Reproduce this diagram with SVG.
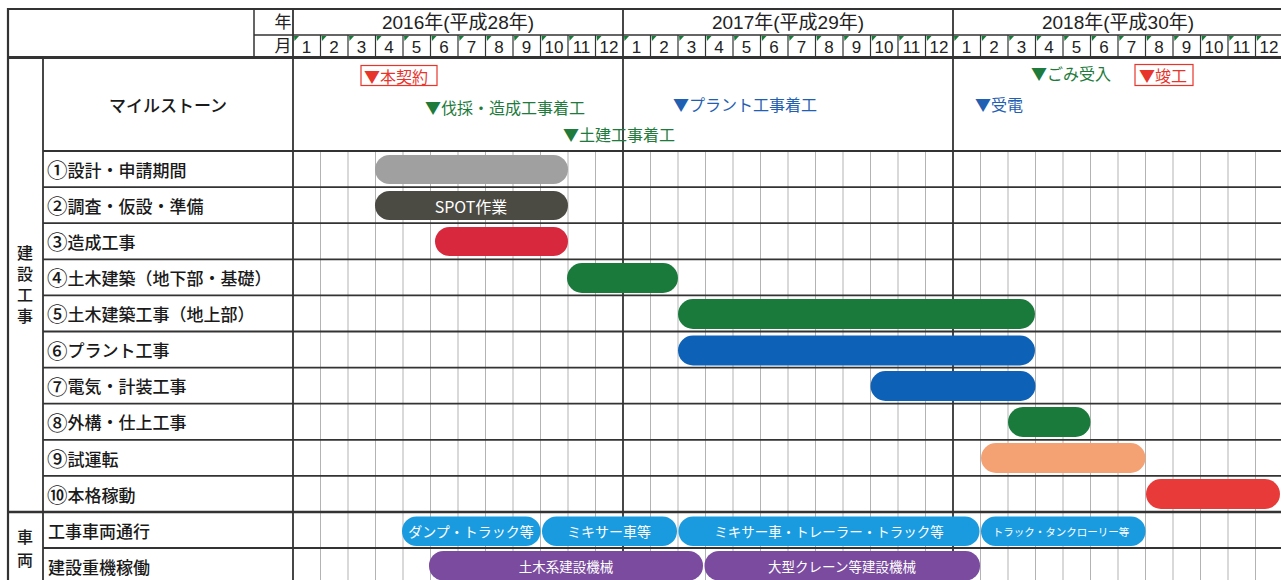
<svg xmlns="http://www.w3.org/2000/svg" width="1281" height="580" viewBox="0 0 1281 580">
<defs>
<style>
.jp{font-family:"Noto Sans CJK JP","Noto Sans CJK SC",sans-serif;}
.hd{font-family:"Liberation Sans","Noto Sans CJK JP",sans-serif;fill:#222;}
.lbl{font-family:"Noto Sans CJK JP",sans-serif;font-size:17px;font-weight:500;fill:#1a1a1a;dominant-baseline:central;}
.vt{font-family:"Noto Sans CJK JP",sans-serif;font-size:16px;font-weight:500;fill:#1a1a1a;writing-mode:vertical-rl;}
.cd{font-size:20.5px;}
.ms{font-family:"Noto Sans CJK JP",sans-serif;font-size:16px;dominant-baseline:central;}
.bt{font-family:"Noto Sans CJK JP","Liberation Sans",sans-serif;fill:#fff;text-anchor:middle;dominant-baseline:central;}
.dk{stroke:#333;fill:none;}
.lt{stroke:#b3b3b3;stroke-width:1;fill:none;}
</style>
<polygon id="tri" points="0,0 5,0 0.5,5" fill="#1a7a3c"/>
</defs>
<rect width="1281" height="580" fill="#fff"/>

<g id="grid">
  <g class="lt">
    <path d="M320.5 151V580M348 151V580M375.5 151V580M403 151V580M430.5 151V580M458 151V580M485.5 151V580M513 151V580M540.5 151V580M568 151V580M595.5 151V580M650.5 151V580M678 151V580M705.5 151V580M733 151V580M760.5 151V580M788 151V580M815.5 151V580M843 151V580M870.5 151V580M898 151V580M925.5 151V580M980.5 151V580M1008 151V580M1035.5 151V580M1063 151V580M1090.5 151V580M1118 151V580M1145.5 151V580M1173 151V580M1200.5 151V580M1228 151V580M1255.5 151V580"/>
  </g>
  <path class="dk" stroke-width="1.2" d="M320.5 35V57M348 35V57M375.5 35V57M403 35V57M430.5 35V57M458 35V57M485.5 35V57M513 35V57M540.5 35V57M568 35V57M595.5 35V57M650.5 35V57M678 35V57M705.5 35V57M733 35V57M760.5 35V57M788 35V57M815.5 35V57M843 35V57M870.5 35V57M898 35V57M925.5 35V57M980.5 35V57M1008 35V57M1035.5 35V57M1063 35V57M1090.5 35V57M1118 35V57M1145.5 35V57M1173 35V57M1200.5 35V57M1228 35V57M1255.5 35V57"/>
  <g>
    <use href="#tri" x="294" y="36"/><use href="#tri" x="321.5" y="36"/><use href="#tri" x="349" y="36"/><use href="#tri" x="376.5" y="36"/><use href="#tri" x="404" y="36"/><use href="#tri" x="431.5" y="36"/><use href="#tri" x="459" y="36"/><use href="#tri" x="486.5" y="36"/><use href="#tri" x="514" y="36"/><use href="#tri" x="541.5" y="36"/><use href="#tri" x="569" y="36"/><use href="#tri" x="596.5" y="36"/>
    <use href="#tri" x="624" y="36"/><use href="#tri" x="651.5" y="36"/><use href="#tri" x="679" y="36"/><use href="#tri" x="706.5" y="36"/><use href="#tri" x="734" y="36"/><use href="#tri" x="761.5" y="36"/><use href="#tri" x="789" y="36"/><use href="#tri" x="816.5" y="36"/><use href="#tri" x="844" y="36"/><use href="#tri" x="871.5" y="36"/><use href="#tri" x="899" y="36"/><use href="#tri" x="926.5" y="36"/>
    <use href="#tri" x="954" y="36"/><use href="#tri" x="981.5" y="36"/><use href="#tri" x="1009" y="36"/><use href="#tri" x="1036.5" y="36"/><use href="#tri" x="1064" y="36"/><use href="#tri" x="1091.5" y="36"/><use href="#tri" x="1119" y="36"/><use href="#tri" x="1146.5" y="36"/><use href="#tri" x="1174" y="36"/><use href="#tri" x="1201.5" y="36"/><use href="#tri" x="1229" y="36"/><use href="#tri" x="1256.5" y="36"/>
  </g>
  <path class="dk" stroke-width="1.8" d="M43 151H1281M43 187.1H1281M43 223.2H1281M43 259.3H1281M43 295.4H1281M43 331.5H1281M43 367.6H1281M43 403.7H1281M43 439.8H1281M43 475.9H1281M43 548H1281"/>
  <path class="dk" stroke-width="2.6" d="M8 512H1281"/>
  <path class="dk" stroke-width="1.5" d="M254 35H1281M254 9V57"/>
  <path class="dk" stroke-width="3" d="M8 57.5H1281"/>
  <path class="dk" stroke-width="1.8" d="M293 9V580M623 9V580M953 9V580M43 57V580"/>
  <path class="dk" stroke-width="2.2" d="M8 580V9H1281"/>
</g>

<g id="header">
  <text class="hd" x="458" y="29" font-size="19" text-anchor="middle">2016年(平成28年)</text>
  <text class="hd" x="788" y="29" font-size="19" text-anchor="middle">2017年(平成29年)</text>
  <text class="hd" x="1118" y="29" font-size="19" text-anchor="middle">2018年(平成30年)</text>
  <text class="jp" x="283" y="28" font-size="17" text-anchor="middle" fill="#222">年</text>
  <text class="jp" x="283" y="52" font-size="17" text-anchor="middle" fill="#222">月</text>
  <g class="hd" font-size="17" text-anchor="middle">
    <text x="306.5" y="52.5">1</text><text x="334" y="52.5">2</text><text x="361.5" y="52.5">3</text><text x="389" y="52.5">4</text><text x="416.5" y="52.5">5</text><text x="444" y="52.5">6</text><text x="471.5" y="52.5">7</text><text x="499" y="52.5">8</text><text x="526.5" y="52.5">9</text><text x="554" y="52.5">10</text><text x="581.5" y="52.5">11</text><text x="609" y="52.5">12</text>
    <text x="636.5" y="52.5">1</text><text x="664" y="52.5">2</text><text x="691.5" y="52.5">3</text><text x="719" y="52.5">4</text><text x="746.5" y="52.5">5</text><text x="774" y="52.5">6</text><text x="801.5" y="52.5">7</text><text x="829" y="52.5">8</text><text x="856.5" y="52.5">9</text><text x="884" y="52.5">10</text><text x="911.5" y="52.5">11</text><text x="939" y="52.5">12</text>
    <text x="966.5" y="52.5">1</text><text x="994" y="52.5">2</text><text x="1021.5" y="52.5">3</text><text x="1049" y="52.5">4</text><text x="1076.5" y="52.5">5</text><text x="1104" y="52.5">6</text><text x="1131.5" y="52.5">7</text><text x="1159" y="52.5">8</text><text x="1186.5" y="52.5">9</text><text x="1214" y="52.5">10</text><text x="1241.5" y="52.5">11</text><text x="1269" y="52.5">12</text>
  </g>
</g>

<g id="categories">
  <text id="cat-construction" class="vt" x="25" y="245" letter-spacing="5">建設工事</text>
  <text id="cat-vehicle" class="vt" x="25" y="529" letter-spacing="7">車両</text>
</g>

<g id="milestones">
  <text class="lbl" x="168" y="104" text-anchor="middle">マイルストーン</text>
  <g id="ms-honkeiyaku">
    <rect x="361" y="65.5" width="76" height="20" fill="none" stroke="#e8352c" stroke-width="1.2"/>
    <text class="ms" x="364" y="76" fill="#e8352c">▼本契約</text>
  </g>
  <text id="ms-bassai" class="ms" x="425" y="107" fill="#1e7b3c">▼伐採・造成工事着工</text>
  <text id="ms-doken" class="ms" x="563" y="134" fill="#1e7b3c">▼土建工事着工</text>
  <text id="ms-plant" class="ms" x="673" y="104" fill="#1f60b2">▼プラント工事着工</text>
  <text id="ms-juden" class="ms" x="975" y="104" fill="#1f60b2">▼受電</text>
  <text id="ms-gomi" class="ms" x="1031" y="73" fill="#1e7b3c">▼ごみ受入</text>
  <g id="ms-shunko">
    <rect x="1135" y="64.5" width="58" height="21" fill="none" stroke="#e8352c" stroke-width="1.2"/>
    <text class="ms" x="1139" y="75" fill="#e8352c">▼竣工</text>
  </g>
</g>

<g id="rows">
  <g id="row1"><text class="lbl" x="47" y="169"><tspan class="cd">①</tspan>設計・申請期間</text>
    <rect x="375" y="155" width="193" height="29" rx="14.5" fill="#a0a0a0"/></g>
  <g id="row2"><text class="lbl" x="47" y="205"><tspan class="cd">②</tspan>調査・仮設・準備</text>
    <rect x="375" y="191" width="193" height="29" rx="14.5" fill="#4b4a43"/>
    <text class="bt" x="471" y="205.5" font-size="16">SPOT作業</text></g>
  <g id="row3"><text class="lbl" x="47" y="241"><tspan class="cd">③</tspan>造成工事</text>
    <rect x="435" y="227" width="133" height="29" rx="14.5" fill="#d8283e"/></g>
  <g id="row4"><text class="lbl" x="47" y="277"><tspan class="cd">④</tspan>土木建築（地下部・基礎）</text>
    <rect x="567" y="263" width="111" height="30" rx="15" fill="#1a7a3c"/></g>
  <g id="row5"><text class="lbl" x="47" y="313"><tspan class="cd">⑤</tspan>土木建築工事（地上部）</text>
    <rect x="678" y="299" width="357" height="30" rx="15" fill="#1a7a3c"/></g>
  <g id="row6"><text class="lbl" x="47" y="349.5"><tspan class="cd">⑥</tspan>プラント工事</text>
    <rect x="678" y="335.5" width="357" height="30" rx="15" fill="#0d62b8"/></g>
  <g id="row7"><text class="lbl" x="47" y="385.5"><tspan class="cd">⑦</tspan>電気・計装工事</text>
    <rect x="870.5" y="371" width="165" height="30" rx="15" fill="#0d62b8"/></g>
  <g id="row8"><text class="lbl" x="47" y="421.5"><tspan class="cd">⑧</tspan>外構・仕上工事</text>
    <rect x="1008" y="407" width="82.5" height="30" rx="15" fill="#1a7a3c"/></g>
  <g id="row9"><text class="lbl" x="47" y="458"><tspan class="cd">⑨</tspan>試運転</text>
    <rect x="981" y="443" width="164.5" height="30" rx="15" fill="#f4a273"/></g>
  <g id="row10"><text class="lbl" x="47" y="494"><tspan class="cd">⑩</tspan>本格稼動</text>
    <rect x="1146" y="479" width="134" height="30" rx="15" fill="#e83a38"/></g>
</g>

<g id="vehicles">
  <g id="row-traffic"><text class="lbl" x="48" y="530">工事車両通行</text>
    <rect x="402" y="516.5" width="138.5" height="29.5" rx="14.5" fill="#1a9be0"/>
    <text class="bt" x="471" y="531" font-size="14">ダンプ・トラック等</text>
    <rect x="542" y="516.5" width="135" height="29.5" rx="14.5" fill="#1a9be0"/>
    <text class="bt" x="609" y="531" font-size="14">ミキサー車等</text>
    <rect x="678.5" y="516.5" width="301" height="29.5" rx="14.5" fill="#1a9be0"/>
    <text class="bt" x="829" y="531" font-size="13.5">ミキサー車・トレーラー・トラック等</text>
    <rect x="981" y="516.5" width="164.5" height="29.5" rx="14.5" fill="#1a9be0"/>
    <text class="bt" x="1061" y="531" font-size="10.5">トラック・タンクローリー等</text></g>
  <g id="row-machines"><text class="lbl" x="48" y="566">建設重機稼働</text>
    <rect x="429" y="551" width="274" height="29.5" rx="14.5" fill="#7a4b9e"/>
    <text class="bt" x="566" y="566" font-size="13.5">土木系建設機械</text>
    <rect x="704.5" y="551" width="275.5" height="29.5" rx="14.5" fill="#7a4b9e"/>
    <text class="bt" x="842" y="566" font-size="13.5">大型クレーン等建設機械</text></g>
</g>

<g id="connectors"/>
</svg>
